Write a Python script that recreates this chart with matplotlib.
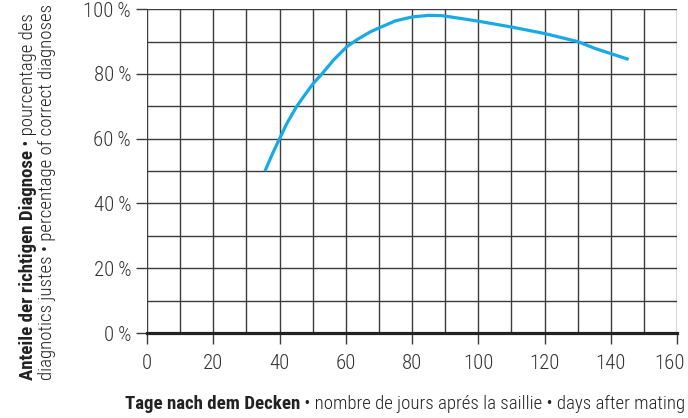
import matplotlib
matplotlib.use("Agg")
import matplotlib.pyplot as plt
from matplotlib import font_manager
from matplotlib.transforms import ScaledTranslation

# Daten
tage = [35.6, 37.8, 40.0, 42.2, 45.2, 47.2, 50.2, 52.8, 56.3, 60.3, 63.4,
        67.4, 70.0, 75.0, 80.0, 85.0, 89.0, 95.0, 100.0, 110.0, 120.0,
        130.0, 135.2, 145.4]
anteil = [50.0, 55.2, 60.0, 64.7, 70.0, 72.9, 77.1, 80.0, 84.3, 88.4, 90.6,
          93.0, 94.2, 96.4, 97.6, 98.1, 98.0, 97.1, 96.3, 94.5, 92.5,
          90.0, 87.9, 84.5]

x_ticks = [0, 20, 40, 60, 80, 100, 120, 140, 160]
y_ticks = [0, 20, 40, 60, 80, 100]
y_labels = ["0\u2009%", "20\u2009%", "40\u2009%", "60\u2009%", "80\u2009%", "100\u2009%"]

x_fett = "Tage nach dem Decken"
x_rest = " \u2022 nombre de jours aprés la saillie \u2022 days after mating"
y_fett = "Anteile der richtigen Diagnose"
y_rest = " \u2022 pourcentage des"
y_zeile2 = "diagnotics justes \u2022 percentage of correct diagnoses"

# schmale Schrift suchen (Frutiger Condensed gibt es nicht)
namen = {f.name for f in font_manager.fontManager.ttflist}
schrift = "DejaVu Sans"
for kandidat in ["Roboto Condensed", "Open Sans Condensed", "PT Sans Narrow",
                 "Fira Sans Condensed", "IBM Plex Sans Condensed",
                 "Sofia Sans Condensed", "Barlow Semi Condensed"]:
    if kandidat in namen:
        schrift = kandidat
        break
plt.rcParams["font.family"] = [schrift, "DejaVu Sans"]

fig = plt.figure(figsize=(6.88, 4.18), dpi=100)
ax = fig.add_axes([0.2137, 0.2033, 0.7703, 0.7747])
ax.set_xlim(0, 160)
ax.set_ylim(0, 100)

# Gitter alle 10
for v in range(0, 170, 10):
    ax.axvline(v, color="#3c3c3c", lw=1.0, zorder=1)
for v in range(10, 110, 10):
    ax.axhline(v, color="#3c3c3c", lw=1.0, zorder=1)

ax.plot(tage, anteil, color="#16abe6", lw=2.3, zorder=3,
        solid_capstyle="butt", solid_joinstyle="round")

for s in ["top", "right", "left"]:
    ax.spines[s].set_visible(False)
ax.spines["bottom"].set_linewidth(2.3)
ax.spines["bottom"].set_color("#222222")
ax.spines["bottom"].set_zorder(4)

r = fig.canvas.get_renderer()

# Schriftgroesse der Achsenzahlen an Breite "100 %" (ca. 48 px) anpassen
probe = fig.text(0, 0, "100\u2009%", fontsize=10, fontweight="light")
tick_fs = 10 * 48 / probe.get_window_extent(r).width
probe.remove()

ax.set_xticks(x_ticks)
ax.set_yticks(y_ticks)
ax.set_yticklabels(y_labels)
ax.tick_params(axis="both", length=8, width=1.0, color="#3c3c3c",
               labelsize=tick_fs, labelcolor="#333333", pad=3.5)
ax.tick_params(axis="x", pad=7)
for lbl in ax.get_xticklabels() + ax.get_yticklabels():
    lbl.set_fontweight("light")

# letzte Zahl (160) am Bildrand etwas nach links gerückt
letzte = ax.xaxis.get_major_ticks()[-1].label1
letzte.set_transform(letzte.get_transform() + ScaledTranslation(-0.07, 0, fig.dpi_scale_trans))

# Groesse der Beschriftung an Gesamtbreite (ca. 560 px) anpassen
a = fig.text(0, 0, x_fett, fontsize=10, fontweight="bold")
b = fig.text(0, 0, x_rest, fontsize=10, fontweight="light")
lab_fs = 10 * 560 / (a.get_window_extent(r).width + b.get_window_extent(r).width)
a.remove()
b.remove()

t1 = fig.text(0.181, 0.012, x_fett, fontsize=lab_fs, fontweight="bold",
              color="#222222", ha="left", va="bottom")
ax.annotate(x_rest, xy=(1, 0), xycoords=t1, fontsize=lab_fs, fontweight="light",
            color="#222222", ha="left", va="bottom", annotation_clip=False)

t2 = fig.text(0.041, 0.091, y_fett, fontsize=lab_fs, fontweight="bold",
              color="#222222", rotation=90, ha="center", va="bottom")
ax.annotate(y_rest, xy=(0.5, 1), xycoords=t2, fontsize=lab_fs, fontweight="light",
            color="#222222", rotation=90, ha="center", va="bottom",
            annotation_clip=False)
fig.text(0.069, 0.541, y_zeile2, fontsize=lab_fs, fontweight="light",
         color="#222222", rotation=90, ha="center", va="center")

fig.savefig("out.png", dpi=100)
